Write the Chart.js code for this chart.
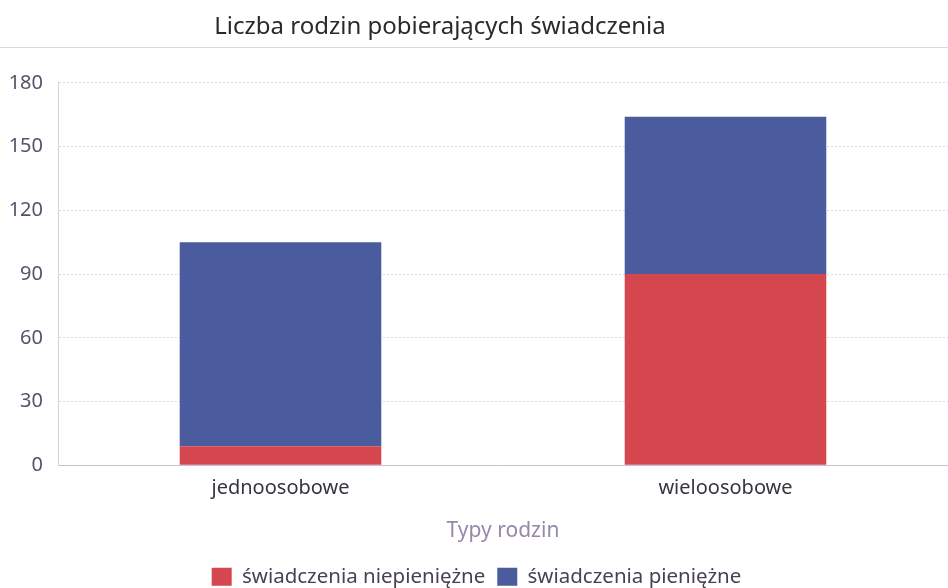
<!DOCTYPE html>
<html>
<head>
<meta charset="utf-8">
<script src="https://cdn.jsdelivr.net/npm/chart.js@4"></script>
<style>
  body { margin: 0; background: #fff; }
  #wrap { width: 948px; height: 588px; }
</style>
</head>
<body>
<div id="wrap"><canvas id="barChart" width="948" height="588"></canvas></div>
<script>
const categories = ['jednoosobowe', 'wieloosobowe'];
const niepieniezne = [9, 90];
const pieniezne = [96, 74];
const yTicks = [0, 30, 60, 90, 120, 150, 180];

// line under the title + title a bit left of centre, like in the original
const titleLine = {
    id: 'titleLine',
    afterLayout(chart) {
        chart.titleBlock.left = 0;
        chart.titleBlock.right = chart.width - 68;
    },
    afterDraw(chart) {
        const ctx = chart.ctx;
        ctx.save();
        ctx.strokeStyle = '#dcd6e4';
        ctx.lineWidth = 1;
        ctx.beginPath();
        ctx.moveTo(0, 47.5);
        ctx.lineTo(chart.width, 47.5);
        ctx.stroke();
        ctx.restore();
    }
};

var ctx = document.getElementById('barChart').getContext('2d');
var chart = new Chart(ctx, {
    type: 'bar',
    data: {
        labels: categories,
        datasets: [{
            label: 'świadczenia niepieniężne',
            backgroundColor: '#d4474e',
            data: niepieniezne,
            categoryPercentage: 1,
            barPercentage: 0.453
        }, {
            label: 'świadczenia pieniężne',
            backgroundColor: '#4a5c9e',
            data: pieniezne,
            categoryPercentage: 1,
            barPercentage: 0.453
        }]
    },
    plugins: [titleLine],
    options: {
        responsive: false,
        animation: false,
        layout: { padding: { left: -2, right: -7, top: 0, bottom: -9 } },
        plugins: {
            title: {
                display: true,
                text: 'Liczba rodzin pobierających świadczenia',
                color: '#2a2a2a',
                font: { family: 'Noto Sans', size: 24, weight: 'normal' },
                padding: { top: 13, bottom: 41 }
            },
            legend: {
                position: 'bottom',
                labels: {
                    color: '#4a3f55',
                    font: { family: 'Noto Sans', size: 20.5 },
                    boxWidth: 20,
                    boxHeight: 18,
                    padding: 12
                }
            },
            tooltip: { enabled: false }
        },
        scales: {
            x: {
                stacked: true,
                grid: { display: false },
                border: { color: '#c9c0d6', dash: [2, 2] },
                ticks: { color: '#3a3340', font: { family: 'Noto Sans', size: 20 }, padding: 3 },
                title: {
                    display: true,
                    text: 'Typy rodzin',
                    color: '#9787aa',
                    font: { family: 'Noto Sans', size: 21 },
                    padding: { top: 15, bottom: 11 }
                }
            },
            y: {
                stacked: true,
                min: 0,
                max: 180,
                afterBuildTicks: function (axis) {
                    axis.ticks = yTicks.map(v => ({ value: v }));
                },
                afterFit: function (axis) {
                    axis.width = 60;
                },
                grid: { color: '#dcd6e8', drawTicks: false },
                border: { display: true, color: '#d8d0e2', dash: [2, 2] },
                ticks: { color: '#5d4f6a', font: { family: 'Noto Sans', size: 20 }, padding: 15 }
            }
        }
    }
});
</script>
</body>
</html>
